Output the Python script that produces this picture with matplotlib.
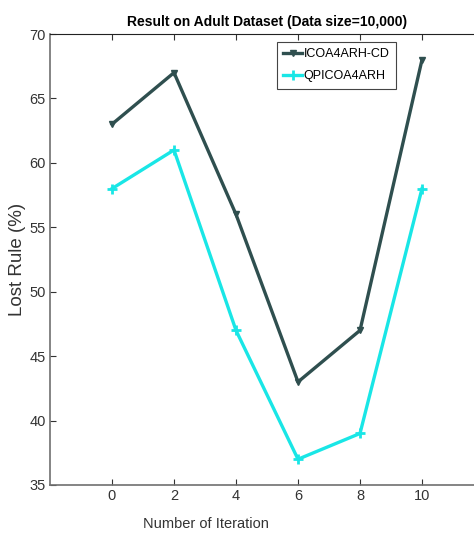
import matplotlib.pyplot as plt

plt.rcParams["font.family"] = ["Liberation Sans", "DejaVu Sans"]

iterations = [0, 2, 4, 6, 8, 10]
icoa_cd = [63, 67, 56, 43, 47, 68]
qpicoa = [58, 61, 47, 37, 39, 58]

fig = plt.figure(figsize=(4.74, 5.39), dpi=100)
ax = fig.add_axes([50 / 474, 1 - 485 / 539, 434 / 474, 451 / 539])

ax.plot(iterations, icoa_cd, color="#2F4F4F", linewidth=2.4, marker="v",
        markersize=5, label="ICOA4ARH-CD")
ax.plot(iterations, qpicoa, color="#19E6E6", linewidth=2.4, marker="+",
        markersize=7, markeredgewidth=2, label="QPICOA4ARH")

ax.set_xlim(-2, 12)
ax.set_ylim(35, 70)
ax.set_xticks(iterations)
ax.set_yticks(range(35, 71, 5))
ax.tick_params(direction="in", top=True, right=True, labelsize=10.5, colors="#333333",
               length=4, pad=3)
for s in ["left", "bottom"]:
    ax.spines[s].set_color("#707070")
    ax.spines[s].set_linewidth(1.2)
ax.spines["top"].set_color("#222222")

ax.set_title("Result on Adult Dataset (Data size=10,000)", fontsize=10,
             fontweight="bold", pad=6)
ax.set_xlabel("Number of Iteration", fontsize=10.5, color="#333333")
ax.set_ylabel("Lost Rule (%)", fontsize=13.5, color="#333333")
ax.yaxis.set_label_coords(-0.056, 0.5)
ax.xaxis.set_label_coords(0.36, -0.072)

leg = ax.legend(loc="upper left", bbox_to_anchor=(0.523, 0.982), fontsize=9,
                fancybox=False, framealpha=1, edgecolor="#444444", borderaxespad=0,
                handlelength=1.5, handletextpad=0.15, borderpad=0.5, labelspacing=0.8)
leg.get_frame().set_linewidth(0.8)

fig.savefig("out.png", dpi=100)
